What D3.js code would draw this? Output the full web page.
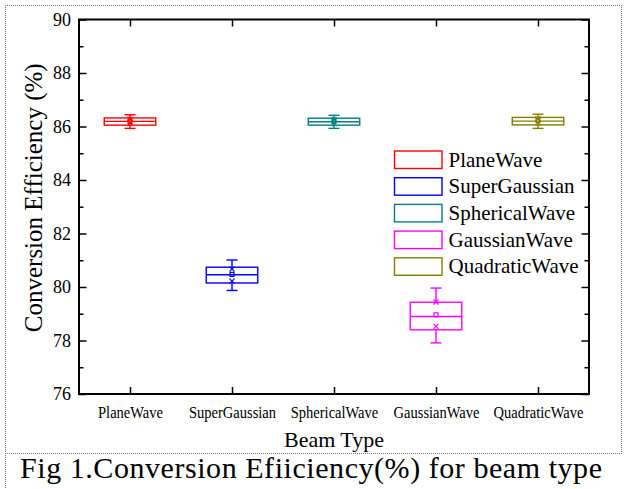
<!DOCTYPE html>
<html>
<head>
<meta charset="utf-8">
<script src="https://cdn.jsdelivr.net/npm/d3@7"></script>
<style>
  body { margin: 0; background: #fff; }
  svg text { font-family: "Liberation Serif", "DejaVu Serif", "Tinos", "Times New Roman", serif; }
</style>
</head>
<body>
<svg id="boxchart" width="625" height="489"></svg>
<script>
// values
var beamTypes  = ["PlaneWave", "SuperGaussian", "SphericalWave", "GaussianWave", "QuadraticWave"];
var boxColors  = ["#ff0000", "#0000ff", "#008080", "#ff00ff", "#808000"];
var whiskerLow = [85.93, 79.87, 85.93, 77.91, 85.93];
var q1Values   = [86.05, 80.15, 86.05, 78.40, 86.06];
var medians    = [86.19, 80.46, 86.18, 78.90, 86.20];
var q3Values   = [86.32, 80.74, 86.31, 79.43, 86.34];
var whiskerHigh= [86.44, 81.01, 86.42, 79.96, 86.46];
var means      = [86.19, 80.47, 86.19, 78.96, 86.22];
var lowMarks   = [86.12, 80.22, 86.11, 78.53, 86.13];
var highMarks  = [86.27, 80.67, 86.26, 79.44, 86.29];
var yTicks     = [76, 78, 80, 82, 84, 86, 88, 90];
var yMinor     = [77, 79, 81, 83, 85, 87, 89];

var svg = d3.select('#boxchart');

var _margin = {top: 19.5, right: 36, bottom: 95, left: 79};
var _width  = +svg.attr("width")  - _margin.left - _margin.right;
var _height = +svg.attr("height") - _margin.top  - _margin.bottom;
var canvas = svg.append("g").attr("transform", `translate(${_margin.left}, ${_margin.top})`);

// page frame (dotted)
var frame = svg.append("g").attr("stroke", "#777").attr("stroke-dasharray", "1,1").attr("fill", "none");
frame.append("line").attr("x1", 5).attr("x2", 622).attr("y1", 5.5).attr("y2", 5.5);
frame.append("line").attr("x1", 5.5).attr("x2", 5.5).attr("y1", 5).attr("y2", 489);
frame.append("line").attr("x1", 621.5).attr("x2", 621.5).attr("y1", 5).attr("y2", 453);
frame.append("line").attr("x1", 5).attr("x2", 622).attr("y1", 453.5).attr("y2", 453.5);

var _data = beamTypes.map(function(name, i) {
  return {
    name: name, pos: i + 1, color: boxColors[i],
    lo: whiskerLow[i], q1: q1Values[i], med: medians[i], q3: q3Values[i], hi: whiskerHigh[i],
    mean: means[i], m1: lowMarks[i], m2: highMarks[i]
  };
});

var x = d3.scaleLinear().domain([0.5, 5.5]).range([0, _width]);
var y = d3.scaleLinear().domain([76, 90]).range([_height, 0]);

// axes, ticks inward, mirrored on top and right
var ax = d3.axisBottom(x).tickValues([1, 2, 3, 4, 5])
  .tickFormat((d) => beamTypes[d - 1]).tickSizeInner(-7).tickSizeOuter(0).tickPadding(12);
var axTop = d3.axisTop(x).tickValues([1, 2, 3, 4, 5]).tickFormat("").tickSizeInner(-7).tickSizeOuter(0);
var ay = d3.axisLeft(y).tickValues(yTicks).tickSizeInner(-7.5).tickSizeOuter(0).tickPadding(8);
var ayMinor = d3.axisLeft(y).tickValues(yMinor).tickFormat("").tickSizeInner(-4.5).tickSizeOuter(0);
var ayRight = d3.axisRight(y).tickValues(yTicks).tickFormat("").tickSizeInner(-7.5).tickSizeOuter(0);
var ayRightMinor = d3.axisRight(y).tickValues(yMinor).tickFormat("").tickSizeInner(-4.5).tickSizeOuter(0);

var gx = canvas.append("g").attr("class", "axis axis--x")
  .attr("transform", `translate(0, ${_height})`).call(ax);
gx.selectAll("text")
  .attr("font-size", 16.5).attr("fill", "#000")
  .attr("transform", "scale(0.88,1)");

canvas.append("g").attr("class", "axis").call(axTop);

var gy = canvas.append("g").attr("class", "axis axis--y").call(ay);
gy.selectAll("text").attr("font-size", 18).attr("fill", "#000");
canvas.append("g").attr("class", "axis").call(ayMinor);
canvas.append("g").attr("class", "axis").attr("transform", `translate(${_width}, 0)`).call(ayRight);
canvas.append("g").attr("class", "axis").attr("transform", `translate(${_width}, 0)`).call(ayRightMinor);

canvas.selectAll(".axis").attr("font-family", null);
canvas.selectAll(".axis .tick line").attr("stroke", "#000").attr("stroke-width", 1.5);
canvas.selectAll(".axis path.domain").remove();

canvas.append("rect")
  .attr("x", 0).attr("y", 0).attr("width", _width).attr("height", _height)
  .attr("fill", "none").attr("stroke", "#000").attr("stroke-width", 2);

// axis titles
canvas.append("text")
  .attr("text-anchor", "middle")
  .attr("x", _width / 2)
  .attr("y", _height + 53)
  .attr("font-size", 22)
  .text("Beam Type");

canvas.append("text")
  .attr("text-anchor", "middle")
  .attr("transform", `translate(${-37}, ${_height / 2 - 9}) rotate(-90)`)
  .attr("font-size", 25)
  .text("Conversion Efficiency (%)");

// boxes
var boxW = 51.5;
var boxes = canvas.selectAll("g.box").data(_data).enter().append("g")
  .attr("class", "box")
  .attr("transform", (d) => `translate(${x(d.pos)}, 0)`)
  .attr("stroke", (d) => d.color)
  .attr("fill", "none")
  .attr("stroke-width", 1.4);

boxes.append("rect")
  .attr("x", -boxW / 2).attr("width", boxW)
  .attr("y", (d) => y(d.q3))
  .attr("height", (d) => y(d.q1) - y(d.q3));

boxes.append("line")
  .attr("x1", -boxW / 2).attr("x2", boxW / 2)
  .attr("y1", (d) => y(d.med)).attr("y2", (d) => y(d.med));

boxes.append("line")
  .attr("x1", 0).attr("x2", 0)
  .attr("y1", (d) => y(d.hi)).attr("y2", (d) => y(d.q3));
boxes.append("line")
  .attr("x1", 0).attr("x2", 0)
  .attr("y1", (d) => y(d.q1)).attr("y2", (d) => y(d.lo));

boxes.append("line")
  .attr("x1", -5.5).attr("x2", 5.5)
  .attr("y1", (d) => y(d.hi)).attr("y2", (d) => y(d.hi));
boxes.append("line")
  .attr("x1", -5.5).attr("x2", 5.5)
  .attr("y1", (d) => y(d.lo)).attr("y2", (d) => y(d.lo));

// mean square
boxes.append("rect")
  .attr("x", -2).attr("width", 4)
  .attr("y", (d) => y(d.mean) - 2).attr("height", 4)
  .attr("stroke-width", 1.2);

// x markers
var cross = "M-2.5,-2.5L2.5,2.5M-2.5,2.5L2.5,-2.5";
boxes.append("path")
  .attr("d", cross)
  .attr("transform", (d) => `translate(0, ${y(d.m1)})`)
  .attr("stroke-width", 1.2);
boxes.append("path")
  .attr("d", cross)
  .attr("transform", (d) => `translate(0, ${y(d.m2)})`)
  .attr("stroke-width", 1.2);

// legend
var legend = svg.append("g").attr("transform", "translate(394.5, 151)");
var rows = legend.selectAll("g").data(_data).enter().append("g")
  .attr("transform", (d, i) => `translate(0, ${i * 26.7})`);
rows.append("rect")
  .attr("width", 47.5).attr("height", 17.5)
  .attr("fill", "none")
  .attr("stroke", (d) => d.color)
  .attr("stroke-width", 1.4);
rows.append("text")
  .attr("x", 54).attr("y", 15.5)
  .attr("font-size", 21)
  .text((d) => d.name);

// caption
svg.append("text")
  .attr("x", 20).attr("y", 478)
  .attr("font-size", 30)
  .attr("textLength", 582)
  .attr("lengthAdjust", "spacing")
  .text("Fig 1.Conversion Efiiciency(%) for beam type");
</script>
</body>
</html>
